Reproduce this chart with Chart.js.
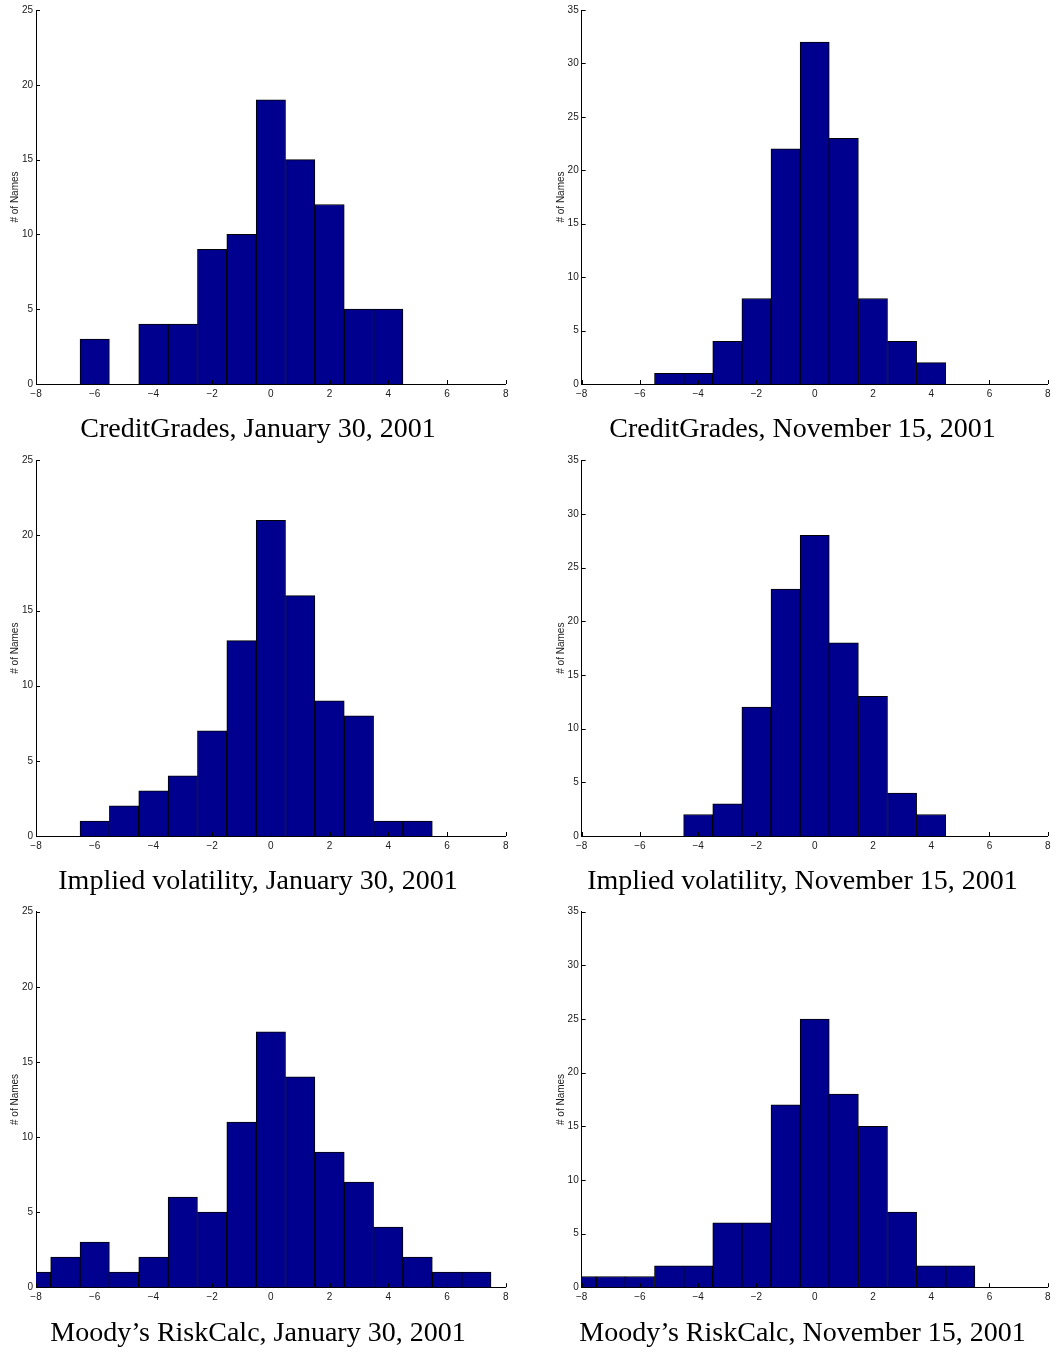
<!DOCTYPE html>
<html>
<head>
<meta charset="utf-8">
<title>Model histograms</title>
<script src="https://cdn.jsdelivr.net/npm/chart.js@4.4.1/dist/chart.umd.min.js"></script>
<style>
    body { margin: 0; background: #fff; }
    canvas { position: absolute; }
</style>
</head>
<body>
<canvas id="cgJan" width="530" height="450" style="left:0px;top:0px"></canvas>
<canvas id="cgNov" width="517" height="450" style="left:546px;top:0px"></canvas>
<canvas id="ivJan" width="530" height="450" style="left:0px;top:450px"></canvas>
<canvas id="ivNov" width="517" height="450" style="left:546px;top:450px"></canvas>
<canvas id="mrJan" width="530" height="450" style="left:0px;top:900px"></canvas>
<canvas id="mrNov" width="517" height="450" style="left:546px;top:900px"></canvas>
<script>
// bin centres (width 1) and counts
const binCenters = [-8, -7, -6, -5, -4, -3, -2, -1, 0, 1, 2, 3, 4, 5, 6, 7, 8];

const creditGradesJan = [0, 0, 3, 0, 4, 4, 9, 10, 19, 15, 12, 5, 5, 0, 0, 0, 0];
const creditGradesNov = [0, 0, 0, 1, 1, 4, 8, 22, 32, 23, 8, 4, 2, 0, 0, 0, 0];
const impliedVolJan = [0, 0, 1, 2, 3, 4, 7, 13, 21, 16, 9, 8, 1, 1, 0, 0, 0];
const impliedVolNov = [0, 0, 0, 0, 2, 3, 12, 23, 28, 18, 13, 4, 2, 0, 0, 0, 0];
const riskCalcJan = [1, 2, 3, 1, 2, 6, 5, 11, 17, 14, 9, 7, 4, 2, 1, 1, 0];
const riskCalcNov = [1, 1, 1, 2, 2, 6, 6, 17, 25, 18, 15, 7, 2, 2, 0, 0, 0];

const xTickValues = [-8, -6, -4, -2, 0, 2, 4, 6, 8];
const yTicksJan = [0, 5, 10, 15, 20, 25];
const yTicksNov = [0, 5, 10, 15, 20, 25, 30, 35];

const titles = [
    'CreditGrades, January 30, 2001',
    'CreditGrades, November 15, 2001',
    'Implied volatility, January 30, 2001',
    'Implied volatility, November 15, 2001',
    'Moody\u2019s RiskCalc, January 30, 2001',
    'Moody\u2019s RiskCalc, November 15, 2001'
];

const barColor = 'rgb(0, 0, 143)';
const textColor = '#1a1a1a';

// matlab style tick marks pointing into the plot
const inwardTicks = {
    id: 'inwardTicks',
    afterDraw(chart) {
        const { ctx, chartArea, scales } = chart;
        ctx.save();
        ctx.strokeStyle = '#000';
        ctx.lineWidth = 1;
        ctx.beginPath();
        scales.x.ticks.forEach((t, i) => {
            const px = Math.round(scales.x.getPixelForTick(i)) + 0.5;
            ctx.moveTo(px, chartArea.bottom);
            ctx.lineTo(px, chartArea.bottom - 4);
        });
        scales.y.ticks.forEach((t, i) => {
            const py = Math.round(scales.y.getPixelForTick(i)) + 0.5;
            ctx.moveTo(chartArea.left, py);
            ctx.lineTo(chartArea.left + 4, py);
        });
        ctx.stroke();
        ctx.restore();
    }
};

function minusLabel(v) {
    return v < 0 ? '\u2212' + Math.abs(v) : String(v);
}

function makeHist(id, counts, title, yTicks, col, row) {
    // column / row geometry (canvas local pixels)
    const left = col === 0
        ? { padL: 10.3, padR: 24.3, yWidth: 25.7, titlePad: -1.1 }
        : { padL: 11.3, padR: 15.3, yWidth: 24.4, titlePad: -2.3 };
    const rows = [
        { padT: 10, padB: 3.2 },
        { padT: 10.3, padB: 1.2 },
        { padT: 11.7, padB: 0 }
    ];
    const r = rows[row];

    new Chart(document.getElementById(id), {
        type: 'bar',
        data: {
            datasets: [{
                data: binCenters.map((x, i) => ({ x: x, y: counts[i] })),
                backgroundColor: barColor,
                borderColor: '#000',
                borderWidth: 1,
                barPercentage: 1,
                categoryPercentage: 1,
                clip: 0
            }]
        },
        options: {
            responsive: false,
            animation: false,
            events: [],
            layout: {
                padding: { left: left.padL, right: left.padR, top: r.padT, bottom: r.padB }
            },
            plugins: {
                legend: { display: false },
                tooltip: { enabled: false },
                title: {
                    display: true,
                    position: 'bottom',
                    text: title,
                    color: '#000',
                    font: { family: 'Liberation Serif', size: 28, weight: 'normal', lineHeight: 1.2 },
                    padding: { top: 9.2, bottom: 0 }
                }
            },
            scales: {
                x: {
                    type: 'linear',
                    min: -8,
                    max: 8,
                    offset: false,
                    z: 1,
                    grid: { display: false, drawTicks: false },
                    border: { display: true, color: '#000', width: 1 },
                    afterBuildTicks: s => { s.ticks = xTickValues.map(v => ({ value: v })); },
                    afterFit: s => { s.height = 20; },
                    ticks: {
                        color: textColor,
                        padding: 4,
                        maxRotation: 0,
                        autoSkip: false,
                        font: { family: 'Liberation Sans', size: 10 },
                        callback: v => minusLabel(v)
                    }
                },
                y: {
                    min: 0,
                    max: yTicks[yTicks.length - 1],
                    z: 1,
                    grid: { display: false, drawTicks: false },
                    border: { display: true, color: '#000', width: 1 },
                    afterBuildTicks: s => { s.ticks = yTicks.map(v => ({ value: v })); },
                    afterFit: s => { s.width = left.yWidth; },
                    title: {
                        display: true,
                        text: '# of Names',
                        color: textColor,
                        font: { family: 'Liberation Sans', size: 10, lineHeight: 1.2 },
                        padding: { top: left.titlePad, bottom: 0 }
                    },
                    ticks: {
                        color: textColor,
                        padding: 3,
                        font: { family: 'Liberation Sans', size: 10 }
                    }
                }
            }
        },
        plugins: [inwardTicks]
    });
}

makeHist('cgJan', creditGradesJan, titles[0], yTicksJan, 0, 0);
makeHist('cgNov', creditGradesNov, titles[1], yTicksNov, 1, 0);
makeHist('ivJan', impliedVolJan, titles[2], yTicksJan, 0, 1);
makeHist('ivNov', impliedVolNov, titles[3], yTicksNov, 1, 1);
makeHist('mrJan', riskCalcJan, titles[4], yTicksJan, 0, 2);
makeHist('mrNov', riskCalcNov, titles[5], yTicksNov, 1, 2);
</script>
</body>
</html>
